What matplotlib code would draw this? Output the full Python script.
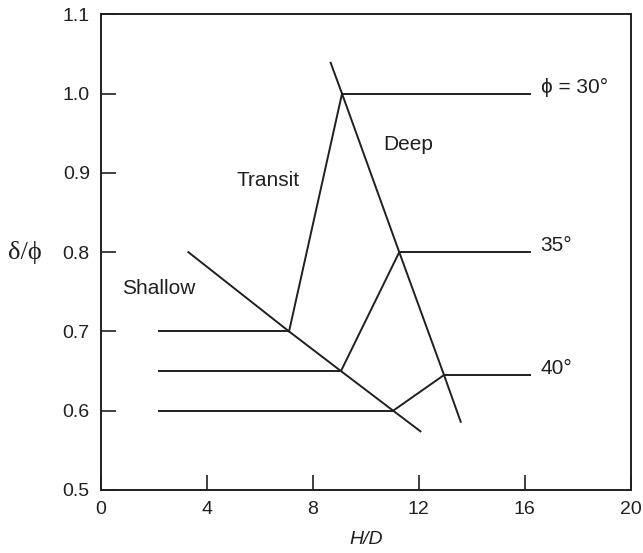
import matplotlib
matplotlib.use("Agg")
import matplotlib.pyplot as plt

# -----------------------------
# DATA
# -----------------------------
# shallow/transit boundary (one straight line)
shallow_x = [3.3, 7.1, 9.06, 11.03, 12.06]
shallow_y = [0.80, 0.70, 0.65, 0.60, 0.574]

# transit/deep boundary
deep_x = [8.67, 9.1, 11.26, 12.95, 13.58]
deep_y = [1.039, 1.0, 0.80, 0.645, 0.586]

# transit rise for phi = 30
transit_x = [7.1, 9.1]
transit_y = [0.70, 1.0]

# connectors between shallow and deep for 35 and 40 deg
conn35_x = [9.06, 11.26]
conn35_y = [0.65, 0.80]
conn40_x = [11.03, 12.95]
conn40_y = [0.60, 0.645]

# horizontal plateaus (x start, x end, level)
shallow_start = 2.2
shallow_levels = [0.70, 0.65, 0.60]
shallow_ends = [7.1, 9.06, 11.03]

deep_end = 16.2
deep_levels = [1.0, 0.80, 0.645]
deep_starts = [9.1, 11.26, 12.95]
deep_labels = ["ϕ = 30°", "35°", "40°"]

regions = ["Shallow", "Transit", "Deep"]
region_x = [0.78, 5.13, 10.64]
region_y = [0.754, 0.89, 0.936]

x_ticks = [0, 4, 8, 12, 16, 20]
y_ticks = [0.5, 0.6, 0.7, 0.8, 0.9, 1.0, 1.1]

# -----------------------------
# PLOT
# -----------------------------
plt.rcParams["font.family"] = ["Liberation Sans", "DejaVu Sans"]
INK = "#231f20"

fig = plt.figure(figsize=(6.43, 5.53), dpi=100)
ax = fig.add_axes([0.157, 0.114, 0.824, 0.860])

lw = 1.4
ax.plot(shallow_x, shallow_y, color=INK, lw=lw)
ax.plot(deep_x, deep_y, color=INK, lw=lw)
ax.plot(transit_x, transit_y, color=INK, lw=lw)
ax.plot(conn35_x, conn35_y, color=INK, lw=lw)
ax.plot(conn40_x, conn40_y, color=INK, lw=lw)

for lvl, xe in zip(shallow_levels, shallow_ends):
    ax.plot([shallow_start, xe], [lvl, lvl], color=INK, lw=lw)

for lvl, xs, lab in zip(deep_levels, deep_starts, deep_labels):
    ax.plot([xs, deep_end], [lvl, lvl], color=INK, lw=lw)
    ax.text(16.6, lvl + 0.008, lab, fontsize=15, color=INK, va="center", ha="left")

for name, tx, ty in zip(regions, region_x, region_y):
    ax.text(tx, ty, name, fontsize=15, color=INK, va="center", ha="left")

ax.set_xlim(0, 20)
ax.set_ylim(0.5, 1.1)
ax.set_xticks(x_ticks)
ax.set_yticks(y_ticks)
ax.set_yticklabels([f"{v:.1f}" for v in y_ticks])
ax.tick_params(direction="in", length=11, width=1.2, colors=INK,
               labelsize=14, pad=8)
for sp in ax.spines.values():
    sp.set_linewidth(1.4)
    sp.set_color(INK)

ax.set_xlabel("H/D", fontsize=14, style="italic", color=INK, labelpad=9)
ax.set_ylabel("δ/ϕ", fontsize=19, color=INK, rotation=0, va="center",
              family=["Liberation Serif", "DejaVu Serif"])
ax.yaxis.set_label_coords(-0.143, 0.5)

fig.savefig("out.png", dpi=100)
